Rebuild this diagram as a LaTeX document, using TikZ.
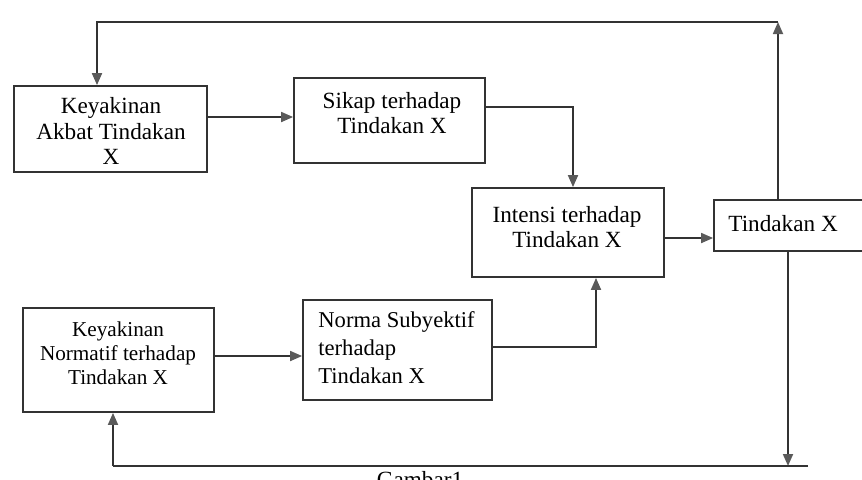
\documentclass[tikz,border=0pt]{standalone}
\usepackage{fontspec}
\setmainfont{Liberation Serif}
\usetikzlibrary{arrows.meta}
\definecolor{ink}{HTML}{333333}
\definecolor{headc}{HTML}{5A5A5A}
\begin{document}
\begin{tikzpicture}[x=0.5pt,y=-0.5pt,
  box/.style={draw=ink,line width=0.9pt,inner sep=0pt},
  txt/.style={align=center,font=\fontsize{11.6}{12.8}\selectfont,inner sep=0pt},
  conn/.style={draw=ink,line width=0.9pt},
  arr/.style={conn,-{Triangle[length=6pt,width=5pt,fill=headc,color=headc]}}]
\useasboundingbox (0,0) rectangle (862,479);
% boxes
\node[box,minimum width=96.5pt,minimum height=43pt] (A) at (110.5,129) {};
\node[box,minimum width=95.5pt,minimum height=42.5pt] (B) at (389.5,120.5) {};
\node[box,minimum width=96pt,minimum height=44.5pt] (C) at (568,232.5) {};
\node[box,minimum width=93pt,minimum height=25.5pt] (D) at (807,225.5) {};
\node[box,minimum width=95.5pt,minimum height=52pt] (E) at (118.5,360) {};
\node[box,minimum width=94.5pt,minimum height=50pt] (F) at (397.5,350) {};
% texts
\node[txt] (At) at (111,131) {Keyakinan\\Akbat Tindakan\\X};
\node[txt] (Bt) at (392,113) {Sikap terhadap\\Tindakan X};
\node[txt] (Ct) at (567,227) {Intensi terhadap\\Tindakan X};
\node[txt,anchor=west] (Dt) at (728,224) {Tindakan X};
\node[txt,font=\fontsize{10.6}{12}\selectfont] (Et) at (118,353) {Keyakinan\\Normatif terhadap\\Tindakan X};
\node[txt,align=left,anchor=west,font=\fontsize{11.3}{14}\selectfont] (Ft) at (318,348) {Norma Subyektif\\terhadap\\Tindakan X};
\node[txt,anchor=north] (cap) at (420,471) {Gambar1};
% helper coordinates
\coordinate (yab) at (0,117);
\coordinate (bc) at (573,107);
\coordinate (ycd) at (0,238);
\coordinate (yef) at (0,356);
\coordinate (fc) at (596,347);
\coordinate (tr) at (778,22);
\coordinate (tl) at (97,22);
\coordinate (br) at (788,466);
\coordinate (brx) at (808,466);
\coordinate (bl) at (113,466);
% connectors
\draw[arr] (A.east |- yab) -- (B.west |- yab);
\draw[arr] (B.east |- bc) -- (bc) -- (C.north -| bc);
\draw[arr] (C.east |- ycd) -- (D.west |- ycd);
\draw[arr] (E.east |- yef) -- (F.west |- yef);
\draw[arr] (F.east |- fc) -- (fc) -- (C.south -| fc);
\draw[arr] (D.north -| tr) -- (tr);
\draw[arr] (tr) -- (tl) -- (A.north -| tl);
\draw[arr] (D.south -| br) -- (br);
\draw[conn] (brx) -- (bl);
\draw[arr] (bl) -- (E.south -| bl);
\end{tikzpicture}
\end{document}
